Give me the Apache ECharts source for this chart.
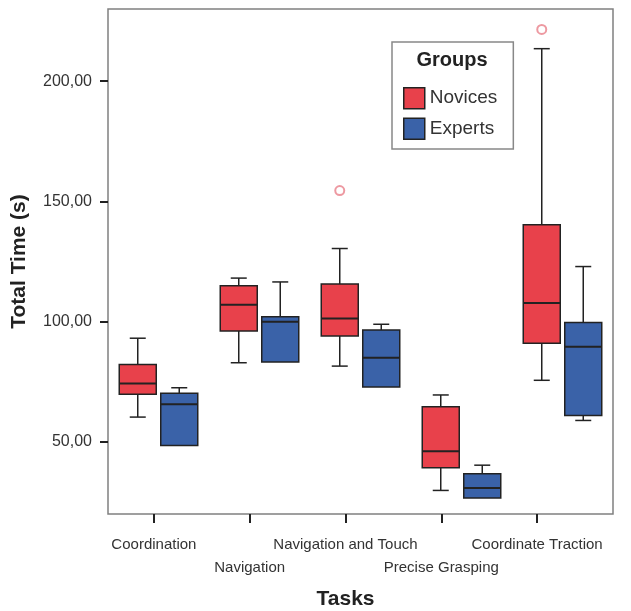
<!DOCTYPE html>
<html>
<head>
<meta charset="utf-8">
<script src="https://cdn.jsdelivr.net/npm/echarts@6/dist/echarts.min.js"></script>
<style>html,body{margin:0;padding:0;background:#fff;}#c{width:631px;height:611px;}</style>
</head>
<body>
<div id="c"></div>
<script>
// ---- data ----
const categories = ['Coordination', 'Navigation', 'Navigation and Touch', 'Precise Grasping', 'Coordinate Traction'];
const groups = ['Novices', 'Experts'];
// [min, Q1, median, Q3, max]
const novices = [
  [60.3, 69.8, 74.3, 82.2, 93.1],
  [82.9, 96.1, 107.0, 114.9, 118.1],
  [81.5, 94.0, 101.3, 115.6, 130.4],
  [29.8, 39.2, 46.1, 64.6, 69.5],
  [75.6, 91.0, 107.7, 140.3, 213.5]
];
const experts = [
  [48.5, 48.5, 65.6, 70.2, 72.5],
  [83.2, 83.2, 99.9, 102.0, 116.5],
  [72.8, 72.8, 85.0, 96.5, 98.9],
  [26.7, 26.7, 30.8, 36.7, 40.3],
  [58.9, 61.0, 89.5, 99.6, 122.9]
];
const noviceOutliers = [[2, 154.5], [4, 221.5]];
const yTicks = [50, 100, 150, 200];

const FONT = '"Liberation Sans", Arial, sans-serif';
const COLORS = { Novices: '#e8414b', Experts: '#3a62a8' };
const BOX_W = 37, CAP_W = 16, OFFSET = 20.75;

function boxRenderer(fill, offset) {
  return function (params, api) {
    const idx = api.value(0);
    const mn = api.value(1), q1 = api.value(2), md = api.value(3), q3 = api.value(4), mx = api.value(5);
    const cx = api.coord([idx, md])[0] + offset;
    const y = v => api.coord([idx, v])[1];
    const stroke = { stroke: '#222', lineWidth: 1.5 };
    const ch = [];
    if (mx > q3) {
      ch.push({ type: 'line', shape: { x1: cx, y1: y(mx), x2: cx, y2: y(q3) }, style: stroke });
      ch.push({ type: 'line', shape: { x1: cx - CAP_W / 2, y1: y(mx), x2: cx + CAP_W / 2, y2: y(mx) }, style: stroke });
    }
    if (mn < q1) {
      ch.push({ type: 'line', shape: { x1: cx, y1: y(q1), x2: cx, y2: y(mn) }, style: stroke });
      ch.push({ type: 'line', shape: { x1: cx - CAP_W / 2, y1: y(mn), x2: cx + CAP_W / 2, y2: y(mn) }, style: stroke });
    }
    ch.push({ type: 'rect', shape: { x: cx - BOX_W / 2, y: y(q3), width: BOX_W, height: y(q1) - y(q3) }, style: { fill: fill, stroke: '#222', lineWidth: 1.5 } });
    ch.push({ type: 'line', shape: { x1: cx - BOX_W / 2, y1: y(md), x2: cx + BOX_W / 2, y2: y(md) }, style: { stroke: '#222', lineWidth: 2 } });
    return { type: 'group', children: ch };
  };
}

const chart = echarts.init(document.getElementById('c'));
chart.setOption({
  animation: false,
  backgroundColor: '#fff',
  textStyle: { fontFamily: FONT },
  grid: [
    { left: 108, top: 9, width: 505, bottom: 97, outerBoundsMode: 'none', containLabel: false, show: true, borderColor: '#808080', borderWidth: 1.5, backgroundColor: 'transparent' },
    { left: 106, top: 9, width: 479, bottom: 97, outerBoundsMode: 'none', containLabel: false, show: false }
  ],
  legend: {
    data: groups.map(g => ({ name: g, itemStyle: { color: COLORS[g], borderColor: '#222', borderWidth: 1.5 } })),
    orient: 'vertical',
    left: 392, top: 42,
    padding: [45, 16, 9, 11],
    itemWidth: 21, itemHeight: 21, itemGap: 8,
    icon: 'rect',
    borderColor: '#888', borderWidth: 1.5,
    textStyle: { fontSize: 19, color: '#333', fontFamily: FONT }
  },
  graphic: [{
    type: 'text', x: 452, y: 60,
    style: { text: 'Groups', align: 'center', verticalAlign: 'middle', font: 'bold 20px ' + FONT, fill: '#222' }
  }],
  xAxis: [
    { type: 'category', gridIndex: 0, data: categories, axisLine: { show: false }, axisTick: { show: false }, axisLabel: { show: false } },
    {
      type: 'category', gridIndex: 1, data: categories,
      axisLine: { show: false },
      axisTick: { show: true, alignWithLabel: true, length: 9, inside: false, lineStyle: { color: '#222', width: 2 } },
      axisLabel: {
        interval: 0, margin: 19, fontSize: 15, color: '#333', lineHeight: 23, hideOverlap: false,
        formatter: (v, i) => (i % 2 ? '\n' + v : v)
      },
      name: 'Tasks', nameLocation: 'middle', nameGap: 75,
      nameTextStyle: { fontSize: 21, fontWeight: 'bold', color: '#222' }
    }
  ],
  yAxis: [
    {
      type: 'value', gridIndex: 0, min: 20, max: 230,
      splitLine: { show: false },
      axisLine: { show: false },
      axisTick: { show: true, length: 8, customValues: yTicks, lineStyle: { color: '#222', width: 2 } },
      axisLabel: { customValues: yTicks, margin: 16, fontSize: 16, color: '#333', formatter: v => v.toFixed(2).replace('.', ',') },
      name: 'Total Time (s)', nameLocation: 'middle', nameGap: 78,
      nameTextStyle: { fontSize: 21, fontWeight: 'bold', color: '#222' }
    },
    { type: 'value', gridIndex: 1, show: false, min: 20, max: 230 }
  ],
  series: [
    {
      name: 'Novices', type: 'custom', xAxisIndex: 0, yAxisIndex: 0,
      data: novices.map((d, i) => [i].concat(d)),
      encode: { x: 0, y: [1, 2, 3, 4, 5] },
      itemStyle: { color: COLORS.Novices },
      renderItem: boxRenderer(COLORS.Novices, -OFFSET)
    },
    {
      name: 'Experts', type: 'custom', xAxisIndex: 0, yAxisIndex: 0,
      data: experts.map((d, i) => [i].concat(d)),
      encode: { x: 0, y: [1, 2, 3, 4, 5] },
      itemStyle: { color: COLORS.Experts },
      renderItem: boxRenderer(COLORS.Experts, OFFSET)
    },
    {
      name: 'Novices outliers', type: 'scatter', xAxisIndex: 0, yAxisIndex: 0, data: noviceOutliers,
      symbol: 'emptyCircle', symbolSize: 9, symbolOffset: [-OFFSET, 0],
      itemStyle: { color: '#e8808a', borderWidth: 1.5 }
    }
  ]
});
</script>
</body>
</html>
